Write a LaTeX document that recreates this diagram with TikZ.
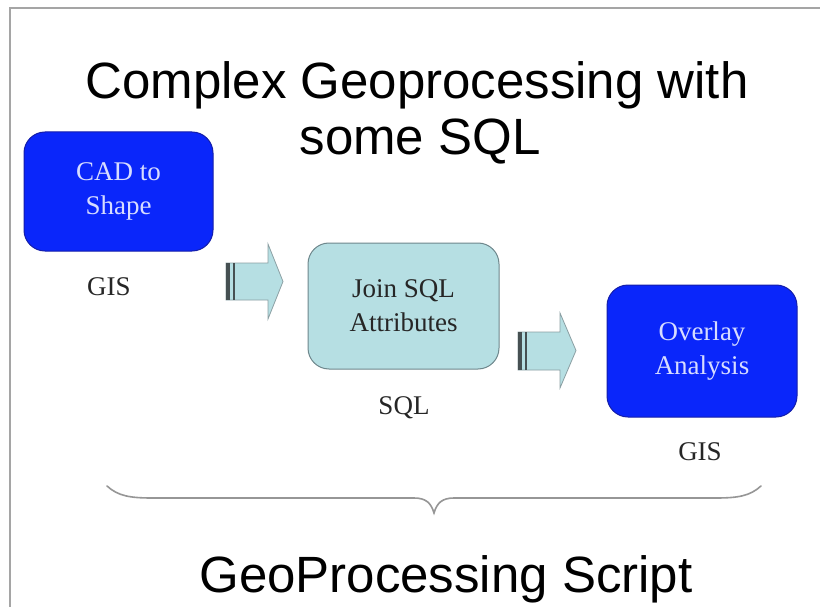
\documentclass[tikz,border=0pt]{standalone}
\usepackage{fontspec}
\setmainfont{Liberation Serif}
\newfontfamily\headfont{Liberation Sans}
\definecolor{stepblue}{RGB}{10,38,250}
\definecolor{stepblueedge}{RGB}{20,30,170}
\definecolor{sqlfill}{RGB}{182,223,227}
\definecolor{sqledge}{RGB}{110,135,140}
\definecolor{framegray}{RGB}{165,165,165}
\definecolor{bracegray}{RGB}{150,150,150}
\definecolor{stripedark}{RGB}{70,80,82}
\definecolor{bluetext}{RGB}{215,220,255}
\tikzset{
  x=1pt, y=-1pt,
  stepbox/.style={rectangle, rounded corners=21pt, line width=1pt, align=center,
    font=\fontsize{27}{34}\selectfont, inner sep=0pt},
  gisbox/.style={stepbox, fill=stepblue, draw=stepblueedge, text=bluetext},
  sqlbox/.style={stepbox, fill=sqlfill, draw=sqledge, text=black!85},
  tag/.style={font=\fontsize{27}{34}\selectfont, text=black!85, inner sep=0pt},
  headline/.style={font=\headfont\fontsize{51}{58}\selectfont, anchor=base, inner sep=0pt},
  blockarrow/.style={fill=sqlfill, draw=sqledge!80, line width=0.8pt, line join=miter},
  stripe/.style={fill=stripedark, draw=none}
}
\begin{document}
\begin{tikzpicture}
\useasboundingbox (0,0) rectangle (820,607);
\fill[white] (0,0) rectangle (820,607);

% slide frame
\draw[framegray, line width=2pt] (820,8) -- (10,8) -- (10,607);

% headings
\node[headline] (title1) at (417,99) {Complex Geoprocessing with};
\node[headline] (title2) at (420,155) {some SQL};
\node[headline] (footer) at (446,592) {GeoProcessing Script};

% processing steps
\node[gisbox, minimum width=189pt, minimum height=119pt] (cad) at (118.5,191.5) {CAD to\\Shape};
\node[sqlbox, minimum width=191pt, minimum height=126pt] (join) at (403.5,306) {Join SQL\\Attributes};
\node[gisbox, minimum width=190pt, minimum height=132pt] (overlay) at (702,351) {Overlay\\Analysis};

\node[tag] (gis1) at (109,287) {GIS};
\node[tag] (sql) at (404,408) {SQL};
\node[tag] (gis2) at (700,452) {GIS};

% block arrows between the steps
\draw[blockarrow] (226,263) -- (268,263) -- (268,244) -- (283,281.5) -- (268,319) -- (268,300) -- (226,300) -- cycle;
\fill[stripe] (226,263) rectangle (229.5,300);
\fill[stripe] (232.5,263) rectangle (235,300);

\draw[blockarrow] (518,332) -- (560,332) -- (560,313) -- (576,350.5) -- (560,388) -- (560,370) -- (518,370) -- cycle;
\fill[stripe] (518,332) rectangle (521.5,370);
\fill[stripe] (524.5,332) rectangle (527,370);

% brace spanning all steps
\draw[bracegray, line width=1.6pt, line cap=round]
  (107,486) .. controls (118,496) and (130,498) .. (152,498)
  -- (414,498) .. controls (426,498) and (431,503) .. (434,513)
  .. controls (437,503) and (442,498) .. (454,498)
  -- (716,498) .. controls (738,498) and (750,496) .. (761,486);
\end{tikzpicture}
\end{document}
